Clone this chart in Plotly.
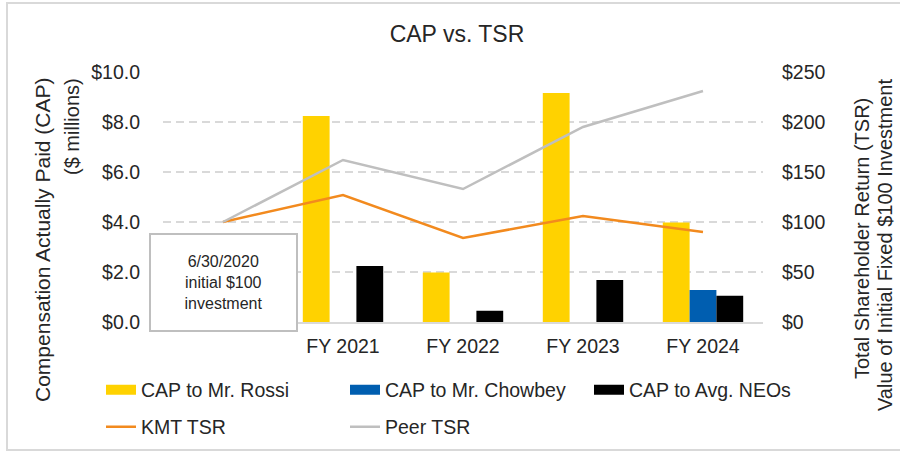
import plotly.graph_objects as go

W, H = 900, 452
L, R, T, B = 163, 137, 72, 130

years = ["FY 2021", "FY 2022", "FY 2023", "FY 2024"]
start_label = "6/30/2020<br>initial $100<br>investment"

cap_rossi = [8.24, 1.98, 9.16, 3.98]
cap_chowbey = [None, None, None, 1.28]
cap_neos = [2.24, 0.45, 1.68, 1.05]

# TSR starts at the 6/30/2020 base point, then one value per fiscal year
kmt_tsr = [100, 127, 84, 106, 90]
peer_tsr = [100, 162, 133, 195, 231]

YELLOW = "#FFD200"
BLUE = "#005EB0"
BLACK = "#000000"
ORANGE = "#F28A1E"
GREY = "#BFBFBF"
TEXT = "#262626"
FONT = "Liberation Sans, Arial, sans-serif"


def paper(x, y):
    """pixel position -> paper coords"""
    return (x - L) / (W - L - R), (H - B - y) / (H - T - B)


bar_x = list(range(1, len(years) + 1))
line_x = list(range(0, len(years) + 1))

fig = go.Figure()

for name, vals, col in [
    ("CAP to Mr. Rossi", cap_rossi, YELLOW),
    ("CAP to Mr. Chowbey", cap_chowbey, BLUE),
    ("CAP to Avg. NEOs", cap_neos, BLACK),
]:
    fig.add_trace(go.Bar(x=bar_x, y=vals, name=name, marker=dict(color=col, line=dict(width=0)),
                         showlegend=False))
    # wide swatch for the legend
    fig.add_trace(go.Scatter(x=[None], y=[None], mode="lines", name=name,
                             line=dict(color=col, width=10), legend="legend"))

for name, vals, col in [("KMT TSR", kmt_tsr, ORANGE), ("Peer TSR", peer_tsr, GREY)]:
    fig.add_trace(go.Scatter(x=line_x, y=vals, name=name, mode="lines", yaxis="y2",
                             line=dict(color=col, width=2.5), legend="legend2"))

lx, ly1 = paper(101, 390)
_, ly2 = paper(101, 427)
legend_style = dict(orientation="h", x=lx, xanchor="left", yanchor="middle",
                    entrywidth=199, entrywidthmode="pixels",
                    font=dict(size=19.5, color=TEXT, family=FONT), bgcolor="rgba(0,0,0,0)")

ax1, ay1 = paper(43, 240)
ax2, ay2 = paper(72, 127)
ax3, ay3 = paper(862, 239)
ax4, ay4 = paper(885, 245)
_, boxy = paper(0, 282.5)
bx0, by0 = paper(7, 3)
bx1, by1 = paper(905, 450)

title_font = dict(size=20, color=TEXT, family=FONT)

fig.update_layout(
    width=W, height=H,
    margin=dict(l=L, r=R, t=T, b=B, autoexpand=False),
    paper_bgcolor="white", plot_bgcolor="white",
    font=dict(family=FONT, color=TEXT, size=19.5),
    title=dict(text="CAP vs. TSR", x=457 / W, xanchor="center", y=1 - 34 / H, yanchor="middle",
               font=dict(size=23, color=TEXT, family=FONT)),
    barmode="group", bargap=0.33, bargroupgap=0,
    xaxis=dict(range=[-0.5, len(years) + 0.5], tickvals=bar_x, ticktext=years,
               showgrid=False, zeroline=False, showline=True, linecolor="#D9D9D9", linewidth=2,
               ticks="", ticklabelstandoff=6, fixedrange=True),
    yaxis=dict(range=[0, 10], dtick=2, tickformat="$.1f", showgrid=True, gridcolor="#D9D9D9",
               gridwidth=1.5, griddash="8px,5px", zeroline=False, ticks="", ticklabelstandoff=22),
    yaxis2=dict(range=[0, 250], dtick=50, tickprefix="$", overlaying="y", side="right",
                showgrid=False, zeroline=False, ticks="", ticklabelstandoff=18),
    legend=dict(y=ly1, **legend_style),
    legend2=dict(y=ly2, **legend_style),
    annotations=[
        dict(text="Compensation Actually Paid (CAP)", x=ax1, y=ay1, xref="paper", yref="paper",
             textangle=-90, showarrow=False, font=dict(title_font, size=21),
             xanchor="center", yanchor="middle"),
        dict(text="($ millions)", x=ax2, y=ay2, xref="paper", yref="paper",
             textangle=-90, showarrow=False, font=title_font, xanchor="center", yanchor="middle"),
        dict(text="Total Shareholder Return (TSR)", x=ax3, y=ay3, xref="paper", yref="paper",
             textangle=-90, showarrow=False, font=title_font, xanchor="center", yanchor="middle"),
        dict(text="Value of Initial Fixed $100 Investment", x=ax4, y=ay4, xref="paper", yref="paper",
             textangle=-90, showarrow=False, font=title_font, xanchor="center", yanchor="middle"),
        dict(text=start_label, x=0, y=boxy, xref="x", yref="paper", showarrow=False,
             width=143, height=93, bgcolor="white", bordercolor="#BFBFBF", borderwidth=2,
             font=dict(size=16, color=TEXT, family=FONT), xanchor="center", yanchor="middle"),
    ],
    shapes=[
        dict(type="rect", xref="paper", yref="paper", x0=bx0, y0=by0, x1=bx1, y1=by1,
             line=dict(color="#D9D9D9", width=2), fillcolor="rgba(0,0,0,0)", layer="below"),
    ],
)

# page has a default 8px body margin; drop it so the figure sits at the window origin
fig.write_html("out.html", config={"displayModeBar": False},
               post_script="document.body.style.margin = '0';")
